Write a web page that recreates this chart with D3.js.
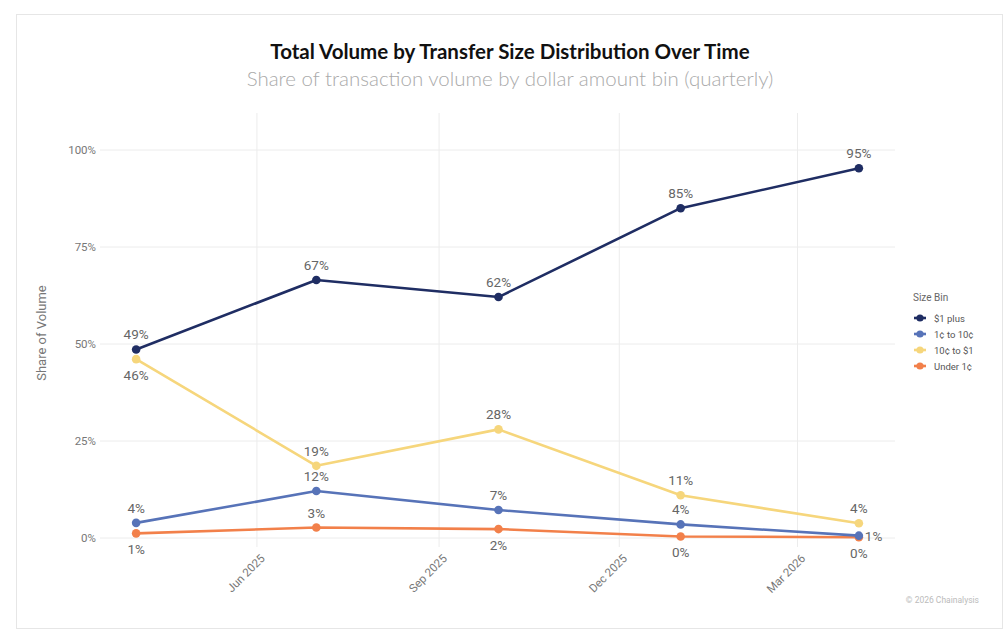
<!DOCTYPE html>
<html>
<head>
<meta charset="utf-8">
<script src="https://cdn.jsdelivr.net/npm/d3@7"></script>
<style>
  body { margin: 0; background: #fff; }
  svg { display: block; }
</style>
</head>
<body>
<script>
// quarter starts
var quarters = ['2025-04-01', '2025-07-01', '2025-10-01', '2026-01-01', '2026-04-01'];
var seriesNames = ['$1 plus', '1¢ to 10¢', '10¢ to $1', 'Under 1¢'];
var seriesColors = ['#1f2d63', '#5773b8', '#f6d67c', '#f2804a'];

// share of volume, percent
var dollarPlus = [48.6, 66.5, 62.1, 85.0, 95.3];
var centTo10 = [3.9, 12.1, 7.2, 3.5, 0.6];
var tenCentToDollar = [46.1, 18.6, 28.0, 11.0, 3.8];
var under1c = [1.2, 2.7, 2.3, 0.4, 0.2];

var yTicks = [0, 25, 50, 75, 100];
var xTicks = ['2025-06-01', '2025-09-01', '2025-12-01', '2026-03-01'];

// where each value label sits relative to its point
var labelSide = [
    ['up', 'up', 'up', 'up', 'up'],
    ['up', 'up', 'up', 'up', 'right'],
    ['down', 'up', 'up', 'up', 'up'],
    ['down', 'up', 'down', 'down', 'down']
];

var allValues = [dollarPlus, centTo10, tenCentToDollar, under1c];
var parseDate = d3.timeParse('%Y-%m-%d');
var dates = quarters.map(parseDate);

var W = 1007, H = 635;
var svg = d3.select('body').append('svg').attr('width', W).attr('height', H);

// card frame
svg.append('rect')
    .attr('x', 16.5).attr('y', 14.5)
    .attr('width', 986).attr('height', 614)
    .attr('fill', '#fff')
    .attr('stroke', '#e6e6e6');

var font = 'Roboto, sans-serif';

svg.append('text')
    .attr('x', 510).attr('y', 59)
    .attr('text-anchor', 'middle')
    .attr('font-family', 'Lato, sans-serif')
    .attr('font-weight', 700)
    .attr('font-size', '20.5px')
    .attr('fill', '#111')
    .text('Total Volume by Transfer Size Distribution Over Time');

svg.append('text')
    .attr('x', 510).attr('y', 86)
    .attr('text-anchor', 'middle')
    .attr('font-family', 'Lato, sans-serif')
    .attr('font-weight', 300)
    .attr('font-size', '20.5px')
    .attr('fill', '#aaa')
    .text('Share of transaction volume by dollar amount bin (quarterly)');

// 5% padding each side like ggplot
var d0 = dates[0], d1 = dates[dates.length - 1];
var span = d1 - d0;
var x = d3.scaleTime()
    .domain([new Date(+d0 - span * 0.05), new Date(+d1 + span * 0.05)])
    .range([100, 895]);

var y = d3.scaleLinear().domain([0, 100]).range([538, 150]);

var panelTop = 113, panelBottom = 547;

var grid = svg.append('g');
grid.selectAll('line.h')
    .data(yTicks)
    .enter().append('line')
    .attr('x1', 100).attr('x2', 895)
    .attr('y1', function (d) { return y(d); })
    .attr('y2', function (d) { return y(d); })
    .attr('stroke', '#ececec')
    .attr('stroke-width', 1);

grid.selectAll('line.v')
    .data(xTicks)
    .enter().append('line')
    .attr('x1', function (d) { return x(parseDate(d)); })
    .attr('x2', function (d) { return x(parseDate(d)); })
    .attr('y1', panelTop).attr('y2', panelBottom)
    .attr('stroke', '#ececec')
    .attr('stroke-width', 1);

// y axis
var yAxis = svg.append('g')
    .attr('transform', 'translate(96,0)')
    .call(d3.axisLeft(y).tickValues(yTicks).tickSize(0).tickPadding(0)
        .tickFormat(function (d) { return d + '%'; }));
yAxis.select('.domain').remove();
yAxis.selectAll('text')
    .attr('font-family', font)
    .attr('font-size', '11.5px')
    .attr('fill', '#777');

svg.append('text')
    .attr('transform', 'translate(46,' + 333 + ') rotate(-90)')
    .attr('text-anchor', 'middle')
    .attr('font-family', font)
    .attr('font-size', '13px')
    .attr('fill', '#777')
    .text('Share of Volume');

// x axis
var xAxis = svg.append('g')
    .attr('transform', 'translate(0,' + panelBottom + ')')
    .call(d3.axisBottom(x).tickValues(xTicks.map(parseDate)).tickSize(0)
        .tickFormat(d3.timeFormat('%b %Y')));
xAxis.select('.domain').remove();
xAxis.selectAll('text')
    .attr('font-family', font)
    .attr('font-size', '11.5px')
    .attr('fill', '#777')
    .attr('text-anchor', 'end')
    .attr('dy', '0')
    .attr('transform', 'translate(6,10) rotate(-45)');

// series, drawn back to front
var line = d3.line()
    .x(function (d) { return x(d.date); })
    .y(function (d) { return y(d.value); });

var order = [3, 2, 1, 0];
order.forEach(function (s) {
    var pts = dates.map(function (d, i) { return { date: d, value: allValues[s][i], side: labelSide[s][i] }; });
    var g = svg.append('g');
    g.append('path')
        .datum(pts)
        .attr('d', line)
        .attr('fill', 'none')
        .attr('stroke', seriesColors[s])
        .attr('stroke-width', 2.6)
        .attr('stroke-linejoin', 'round');
    g.selectAll('circle')
        .data(pts)
        .enter().append('circle')
        .attr('cx', function (d) { return x(d.date); })
        .attr('cy', function (d) { return y(d.value); })
        .attr('r', 4.3)
        .attr('fill', seriesColors[s]);
});

// value labels on top
order.forEach(function (s) {
    var pts = dates.map(function (d, i) { return { date: d, value: allValues[s][i], side: labelSide[s][i] }; });
    svg.append('g').selectAll('text')
        .data(pts)
        .enter().append('text')
        .attr('x', function (d) { return x(d.date) + (d.side == 'right' ? 6 : 0); })
        .attr('y', function (d) {
            if (d.side == 'up') return y(d.value) - 10;
            if (d.side == 'down') return y(d.value) + 21;
            return y(d.value) + 5;
        })
        .attr('text-anchor', function (d) { return d.side == 'right' ? 'start' : 'middle'; })
        .attr('font-family', font)
        .attr('font-size', '13.5px')
        .attr('fill', '#666')
        .text(function (d) { return Math.round(d.value) + '%'; });
});

// legend
var legend = svg.append('g').attr('transform', 'translate(913,0)');
legend.append('text')
    .attr('x', 0).attr('y', 301)
    .attr('font-family', font)
    .attr('font-size', '10px')
    .attr('fill', '#666')
    .text('Size Bin');

var items = legend.selectAll('g.item')
    .data(seriesNames)
    .enter().append('g')
    .attr('transform', function (d, i) { return 'translate(0,' + (318 + i * 16) + ')'; });
items.append('line')
    .attr('x1', 1).attr('x2', 13)
    .attr('y1', 0).attr('y2', 0)
    .attr('stroke', function (d, i) { return seriesColors[i]; })
    .attr('stroke-width', 2.6);
items.append('circle')
    .attr('cx', 7).attr('cy', 0).attr('r', 3.6)
    .attr('fill', function (d, i) { return seriesColors[i]; });
items.append('text')
    .attr('x', 21).attr('y', 3.5)
    .attr('font-family', font)
    .attr('font-size', '9.5px')
    .attr('fill', '#555')
    .text(function (d) { return d; });

svg.append('text')
    .attr('x', 979).attr('y', 603)
    .attr('text-anchor', 'end')
    .attr('font-family', font)
    .attr('font-size', '8.5px')
    .attr('fill', '#bbb')
    .text('© 2026 Chainalysis');
</script>
</body>
</html>
